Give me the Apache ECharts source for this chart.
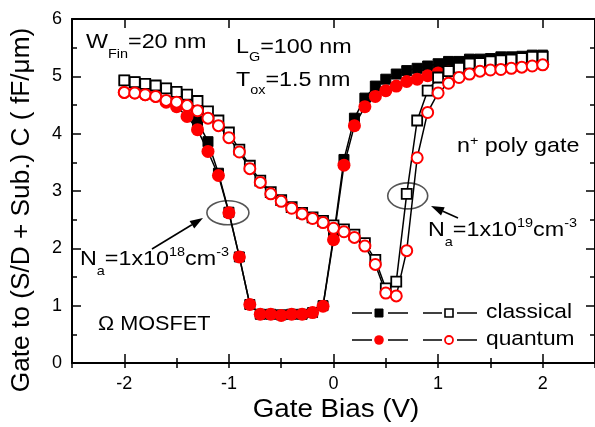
<!DOCTYPE html>
<html><head><meta charset="utf-8">
<script src="https://cdn.jsdelivr.net/npm/echarts@6/dist/echarts.min.js"></script>
<style>html,body{margin:0;padding:0;background:#fff}#c{width:595px;height:427px}</style>
</head><body><div id="c"></div>
<script>
// ---- data ----
const bias = [-2.0,-1.9,-1.8,-1.7,-1.6,-1.5,-1.4,-1.3,-1.2,-1.1,
              -1.0,-0.9,-0.8,-0.7,-0.6,-0.5,-0.4,-0.3,-0.2,-0.1,
               0.0, 0.1, 0.2, 0.3, 0.4, 0.5, 0.6, 0.7, 0.8, 0.9,
               1.0, 1.1, 1.2, 1.3, 1.4, 1.5, 1.6, 1.7, 1.8, 1.9, 2.0];
// Na = 1e18 (filled symbols)
const classical18 = [4.93,4.90,4.87,4.84,4.79,4.73,4.52,4.22,3.86,3.31,
                     2.63,1.85,1.02,0.85,0.85,0.84,0.85,0.85,0.88,1.00,
                     2.20,3.55,4.27,4.62,4.83,4.95,5.04,5.10,5.14,5.18,
                     5.22,5.26,5.26,5.30,5.30,5.31,5.34,5.34,5.35,5.37,5.37];
const quantum18   = [4.72,4.71,4.68,4.65,4.55,4.47,4.30,4.07,3.69,3.27,
                     2.62,1.85,1.02,0.85,0.85,0.83,0.85,0.85,0.88,0.99,
                     2.15,3.45,4.14,4.47,4.65,4.75,4.83,4.91,4.95,5.01,
                     5.06,5.08,5.10,5.10,5.12,5.13,5.14,5.15,5.17,5.19,5.21];
// Na = 1e19 (open symbols)
const classical19 = [4.93,4.90,4.87,4.84,4.79,4.73,4.68,4.57,4.39,4.23,
                     4.02,3.72,3.44,3.18,2.98,2.84,2.72,2.62,2.54,2.48,
                     2.40,2.33,2.24,2.09,1.80,1.30,1.42,2.95,4.23,4.75,
                     4.98,5.09,5.15,5.22,5.23,5.26,5.28,5.29,5.32,5.34,5.34];
const quantum19   = [4.72,4.71,4.68,4.65,4.58,4.55,4.49,4.40,4.27,4.14,
                     3.93,3.68,3.39,3.15,2.95,2.82,2.70,2.60,2.52,2.45,
                     2.35,2.29,2.19,2.04,1.72,1.22,1.17,1.96,3.58,4.37,
                     4.71,4.88,4.98,5.04,5.09,5.11,5.12,5.14,5.16,5.18,5.20];
const xTicks = [-2,-1,0,1,2];
const xTitle = 'Gate Bias (V)';
const yTitle = 'Gate to (S/D + Sub.) C ( fF/\u03bcm)';
const legendLabels = ['classical','quantum'];
// circled points (index into bias)
const circled18 = 10;  // -1.0 V
const circled19 = 27;  //  0.7 V

// ---- chart ----
const FONT = '"Liberation Sans", Arial, Helvetica, sans-serif';
const SX = 1.11;
const chart = echarts.init(document.getElementById('c'), null, {renderer:'canvas', width:595, height:427});
const pairs = ys => bias.map((x,i)=>[x, ys[i]]);
const axLine = {onZero:false, lineStyle:{color:'#000', width:2}};
const tickMajor = {inside:true, length:9, lineStyle:{color:'#000', width:1.5}};
const tickMinor = {inside:true, length:5, lineStyle:{color:'#000', width:1.5}};
const noSplit = {show:false};

function xMajor(pos, showLabel){
  return {type:'value', position:pos, min:-2.5, max:2.5, axisLine:axLine,
    axisTick:Object.assign({customValues:xTicks}, tickMajor),
    axisLabel:{show:showLabel, customValues:xTicks, fontSize:18, color:'#000', fontFamily:FONT, margin:12},
    splitLine:noSplit};
}
function xMinor(pos){
  return {type:'value', position:pos, min:-2.5, max:2.5, interval:0.5, axisLine:{show:false},
    axisTick:tickMinor, axisLabel:{show:false}, splitLine:noSplit};
}
function yAx(pos, showLabel){
  return {type:'value', position:pos, min:0, max:6, interval:1, axisLine:axLine,
    axisTick:tickMajor, minorTick:Object.assign({show:true, splitNumber:2}, tickMinor),
    axisLabel:{show:showLabel, fontSize:18, color:'#000', fontFamily:FONT, margin:10},
    splitLine:noSplit, minorSplitLine:{show:false}};
}
function lineSeries(name, ys, symbol, size, itemStyle){
  return {name, type:'line', xAxisIndex:0, yAxisIndex:0, data:pairs(ys),
    symbol, symbolSize:size, showSymbol:true, showAllSymbol:true,
    itemStyle, lineStyle:{color:'#000', width:1.5}, emphasis:{disabled:true}, silent:true};
}

chart.setOption({
  animation:false,
  backgroundColor:'#fff',
  grid:{left:72, top:19, width:530, height:344},
  xAxis:[xMajor('bottom', true), xMinor('bottom'), xMajor('top', false), xMinor('top')],
  yAxis:[yAx('left', true), yAx('right', false)],
  series:[
    lineSeries('classical 1e18', classical18, 'rect', 10, {color:'#000', borderColor:'#000', borderWidth:1}),
    lineSeries('quantum 1e18', quantum18, 'circle', 13, {color:'#ff0000', borderColor:'#ff0000', borderWidth:0}),
    lineSeries('classical 1e19', classical19, 'rect', 10, {color:'#fff', borderColor:'#000', borderWidth:1.8}),
    lineSeries('quantum 1e19', quantum19, 'circle', 11, {color:'#fff', borderColor:'#ff0000', borderWidth:2})
  ]
});

// ---- annotations ----
const mctx = document.createElement('canvas').getContext('2d');
function tw(t, s){ mctx.font = s + 'px ' + FONT; return mctx.measureText(t).width; }
// parts: [text, size, baselineOffset]
function composed(x, baseline, parts){
  const els = []; let cx = x;
  for (const [t, s, dy] of parts){
    els.push({type:'text', x:cx, y:baseline + dy - 0.35*s, scaleX:SX, silent:true,
      style:{text:t, font:s + 'px ' + FONT, fill:'#000', align:'left', verticalAlign:'middle'}});
    cx += tw(t, s) * SX;
  }
  return els;
}
function arrow(x1, y1, x2, y2){
  const a = Math.atan2(y2-y1, x2-x1), L = 13, W = 4.5;
  const bx = x2 - L*Math.cos(a), by = y2 - L*Math.sin(a);
  return [
    {type:'line', silent:true, shape:{x1, y1, x2:bx, y2:by}, style:{stroke:'#000', lineWidth:1.6}},
    {type:'polygon', silent:true, shape:{points:[[x2,y2],[bx - W*Math.sin(a), by + W*Math.cos(a)],[bx + W*Math.sin(a), by - W*Math.cos(a)]]}, style:{fill:'#000'}}
  ];
}
const p18 = chart.convertToPixel({xAxisIndex:0, yAxisIndex:0}, [bias[circled18], quantum18[circled18]]);
const p19 = chart.convertToPixel({xAxisIndex:0, yAxisIndex:0}, [bias[circled19], classical19[circled19]]);

let g = [];
g = g.concat(composed(86, 50, [['W',21,0],['Fin',13,9],['=20 nm',21,0]]));
g = g.concat(composed(236, 55, [['L',21,0],['G',13,7],['=100 nm',21,0]]));
g = g.concat(composed(236, 88, [['T',21,0],['ox',13,7],['=1.5 nm',21,0]]));
g = g.concat(composed(457, 154, [['n',21,0],['+',13,-8],[' poly gate',21,0]]));
g = g.concat(composed(80, 267, [['N',21,0],['a',13,9],['=1x10',21,0],['18',13,-10],['cm',21,0],['-3',13,-10]]));
g = g.concat(composed(428, 238, [['N',21,0],['a',13,9],['=1x10',21,0],['19',13,-10],['cm',21,0],['-3',13,-10]]));
g = g.concat(composed(98, 331, [['\u03a9 MOSFET',19.5,0]]));
// ellipses around highlighted points
g.push({type:'ellipse', silent:true, shape:{cx:p18[0]-1, cy:p18[1], rx:21, ry:12}, style:{fill:'none', stroke:'#555', lineWidth:1.6}});
g.push({type:'ellipse', silent:true, shape:{cx:p19[0]+1, cy:p19[1]+2, rx:20, ry:13}, style:{fill:'none', stroke:'#555', lineWidth:1.6}});
g = g.concat(arrow(152, 249, 203, 218));
g = g.concat(arrow(458, 218, 431, 206));
// legend
function legRow(y, filled, open, label){
  const els = [];
  [[352,372],[388,408],[423,442],[457,477]].forEach(([a,b])=>els.push({type:'line', silent:true, shape:{x1:a,y1:y,x2:b,y2:y}, style:{stroke:'#000', lineWidth:1.5}}));
  els.push(filled(379, y)); els.push(open(449, y));
  els.push(...composed(486, y + 7, [[label, 20.5, 0]]));
  return els;
}
g = g.concat(legRow(313,
  (x,y)=>({type:'rect', silent:true, shape:{x:x-4,y:y-4,width:8,height:8}, style:{fill:'#000', stroke:'#000', lineWidth:1}}),
  (x,y)=>({type:'rect', silent:true, shape:{x:x-4,y:y-4,width:8,height:8}, style:{fill:'#fff', stroke:'#000', lineWidth:1.6}}),
  legendLabels[0]));
g = g.concat(legRow(340,
  (x,y)=>({type:'circle', silent:true, shape:{cx:x,cy:y,r:4.8}, style:{fill:'#ff0000'}}),
  (x,y)=>({type:'circle', silent:true, shape:{cx:x,cy:y,r:4}, style:{fill:'#fff', stroke:'#ff0000', lineWidth:1.8}}),
  legendLabels[1]));
// axis titles
g.push({type:'text', silent:true, x:336, y:410, scaleX:SX, style:{text:xTitle, font:'25px ' + FONT, fill:'#000', align:'center', verticalAlign:'middle'}});
g.push({type:'text', silent:true, x:22, y:210, rotation:Math.PI/2, scaleX:1.05, style:{text:yTitle, font:'25px ' + FONT, fill:'#000', align:'center', verticalAlign:'middle'}});

chart.setOption({graphic:{elements:g}});
</script>
</body></html>
